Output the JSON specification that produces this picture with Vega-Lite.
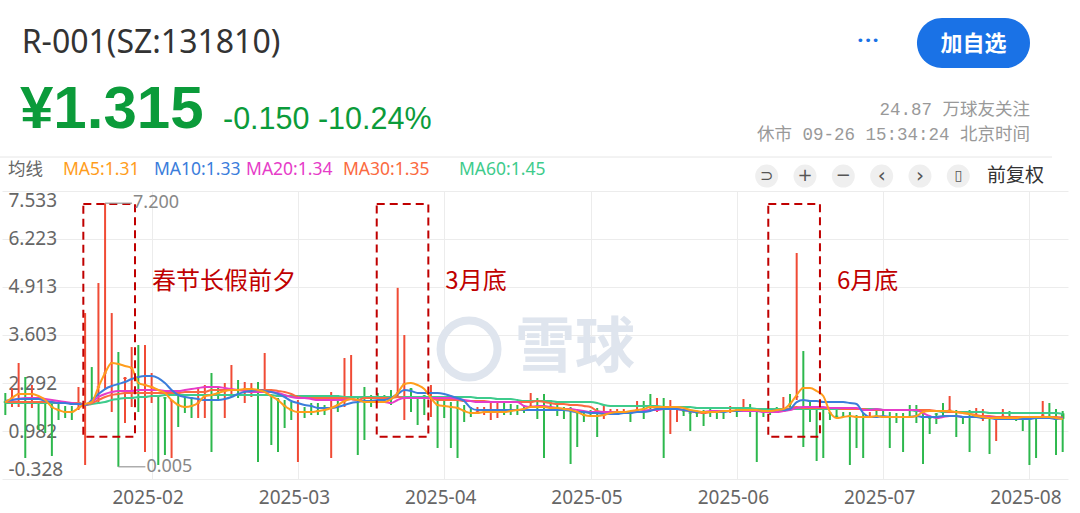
{
  "$schema": "https://vega.github.io/schema/vega-lite/v6.json",
  "description": "R-001 daily candles with moving averages, Xueqiu style",
  "width": 1066,
  "height": 288,
  "autosize": {"type": "none"},
  "padding": {"left": 2, "top": 191, "right": 12, "bottom": 34},
  "background": "white",
  "config": {
    "view": {"stroke": null},
    "axis": {"labelFont": "Noto Sans", "labelFontSize": 19, "labelColor": "#666666", "gridColor": "#ececec", "domain": false, "ticks": false, "title": null}
  },
  "datasets": {
    "k": [
      {"i":0,"o":1.788,"c":1.758,"h":2.019,"l":1.418,"ma5":1.773,"ma10":1.801,"ma20":1.801,"ma30":1.773,"ma60":1.746},
      {"i":1,"o":1.868,"c":1.898,"h":2.155,"l":1.637,"ma5":1.883,"ma10":1.828,"ma20":1.828,"ma30":1.773,"ma60":1.746},
      {"i":2,"o":1.977,"c":2.007,"h":2.838,"l":1.637,"ma5":1.992,"ma10":1.855,"ma20":1.855,"ma30":1.773,"ma60":1.746},
      {"i":3,"o":2.007,"c":1.977,"h":2.456,"l":0.245,"ma5":1.992,"ma10":1.855,"ma20":1.883,"ma30":1.773,"ma60":1.746},
      {"i":4,"o":1.977,"c":2.007,"h":2.237,"l":1.610,"ma5":1.992,"ma10":1.855,"ma20":1.883,"ma30":1.773,"ma60":1.746},
      {"i":5,"o":1.760,"c":1.730,"h":1.773,"l":1.009,"ma5":1.937,"ma10":1.855,"ma20":1.883,"ma30":1.773,"ma60":1.746},
      {"i":6,"o":1.760,"c":1.720,"h":1.773,"l":0.927,"ma5":1.828,"ma10":1.801,"ma20":1.855,"ma30":1.773,"ma60":1.746},
      {"i":7,"o":1.652,"c":1.622,"h":1.773,"l":0.300,"ma5":1.637,"ma10":1.773,"ma20":1.828,"ma30":1.773,"ma60":1.746},
      {"i":8,"o":1.570,"c":1.540,"h":1.746,"l":1.282,"ma5":1.555,"ma10":1.746,"ma20":1.801,"ma30":1.746,"ma60":1.746},
      {"i":9,"o":1.515,"c":1.485,"h":1.664,"l":1.337,"ma5":1.500,"ma10":1.746,"ma20":1.773,"ma30":1.746,"ma60":1.746},
      {"i":10,"o":1.515,"c":1.485,"h":1.664,"l":1.282,"ma5":1.500,"ma10":1.719,"ma20":1.746,"ma30":1.746,"ma60":1.746},
      {"i":11,"o":1.595,"c":1.625,"h":2.183,"l":1.555,"ma5":1.610,"ma10":1.719,"ma20":1.719,"ma30":1.746,"ma60":1.746},
      {"i":12,"o":1.704,"c":1.734,"h":4.202,"l":0.054,"ma5":1.719,"ma10":1.692,"ma20":1.692,"ma30":1.692,"ma60":1.692},
      {"i":13,"o":1.788,"c":1.758,"h":2.728,"l":1.719,"ma5":1.773,"ma10":1.828,"ma20":1.773,"ma30":1.746,"ma60":1.719},
      {"i":14,"o":2.168,"c":2.198,"h":5.021,"l":1.746,"ma5":2.183,"ma10":1.992,"ma20":1.910,"ma30":1.828,"ma60":1.746},
      {"i":15,"o":2.550,"c":2.580,"h":7.200,"l":2.101,"ma5":2.565,"ma10":2.128,"ma20":1.992,"ma30":1.910,"ma60":1.773},
      {"i":16,"o":2.823,"c":2.853,"h":4.202,"l":1.500,"ma5":2.838,"ma10":2.210,"ma20":2.046,"ma30":1.964,"ma60":1.828},
      {"i":17,"o":2.826,"c":2.796,"h":3.138,"l":0.005,"ma5":2.811,"ma10":2.265,"ma20":2.074,"ma30":1.992,"ma60":1.855},
      {"i":18,"o":2.400,"c":2.440,"h":2.456,"l":1.200,"ma5":2.756,"ma10":2.319,"ma20":2.074,"ma30":2.019,"ma60":1.883},
      {"i":19,"o":2.686,"c":2.716,"h":3.274,"l":1.637,"ma5":2.701,"ma10":2.401,"ma20":2.074,"ma30":2.019,"ma60":1.883},
      {"i":20,"o":2.307,"c":2.277,"h":3.329,"l":1.500,"ma5":2.292,"ma10":2.456,"ma20":2.101,"ma30":2.019,"ma60":1.910},
      {"i":21,"o":2.222,"c":2.252,"h":3.329,"l":0.409,"ma5":2.237,"ma10":2.483,"ma20":2.101,"ma30":2.019,"ma60":1.910},
      {"i":22,"o":2.168,"c":2.198,"h":2.565,"l":1.746,"ma5":2.183,"ma10":2.483,"ma20":2.101,"ma30":2.019,"ma60":1.937},
      {"i":23,"o":1.950,"c":1.920,"h":1.964,"l":0.054,"ma5":2.101,"ma10":2.428,"ma20":2.101,"ma30":2.019,"ma60":1.937},
      {"i":24,"o":1.900,"c":1.870,"h":1.910,"l":0.327,"ma5":2.019,"ma10":2.292,"ma20":2.074,"ma30":2.019,"ma60":1.964},
      {"i":25,"o":1.790,"c":1.820,"h":1.828,"l":0.245,"ma5":1.828,"ma10":2.101,"ma20":2.074,"ma30":2.019,"ma60":1.964},
      {"i":26,"o":1.707,"c":1.677,"h":1.964,"l":1.091,"ma5":1.692,"ma10":1.964,"ma20":2.074,"ma30":2.019,"ma60":1.964},
      {"i":27,"o":1.652,"c":1.622,"h":1.910,"l":1.473,"ma5":1.637,"ma10":1.910,"ma20":2.101,"ma30":2.046,"ma60":1.964},
      {"i":28,"o":1.679,"c":1.649,"h":1.910,"l":1.337,"ma5":1.664,"ma10":1.883,"ma20":2.128,"ma30":2.046,"ma60":1.964},
      {"i":29,"o":1.731,"c":1.761,"h":2.155,"l":1.337,"ma5":1.746,"ma10":1.855,"ma20":2.155,"ma30":2.046,"ma60":1.964},
      {"i":30,"o":1.922,"c":1.952,"h":2.237,"l":1.337,"ma5":1.937,"ma10":1.828,"ma20":2.183,"ma30":2.046,"ma60":1.964},
      {"i":31,"o":1.979,"c":1.949,"h":2.565,"l":0.409,"ma5":1.964,"ma10":1.828,"ma20":2.183,"ma30":2.101,"ma60":1.964},
      {"i":32,"o":2.034,"c":2.004,"h":2.183,"l":1.828,"ma5":2.019,"ma10":1.828,"ma20":2.183,"ma30":2.101,"ma60":1.964},
      {"i":33,"o":2.059,"c":2.089,"h":2.292,"l":1.337,"ma5":2.074,"ma10":1.855,"ma20":2.155,"ma30":2.101,"ma60":1.964},
      {"i":34,"o":2.086,"c":2.116,"h":2.783,"l":1.910,"ma5":2.101,"ma10":1.910,"ma20":2.128,"ma30":2.101,"ma60":1.964},
      {"i":35,"o":2.116,"c":2.086,"h":2.374,"l":1.883,"ma5":2.101,"ma10":1.992,"ma20":2.101,"ma30":2.101,"ma60":1.964},
      {"i":36,"o":2.113,"c":2.143,"h":2.319,"l":1.746,"ma5":2.128,"ma10":2.046,"ma20":2.074,"ma30":2.101,"ma60":1.964},
      {"i":37,"o":2.113,"c":2.143,"h":2.292,"l":1.910,"ma5":2.128,"ma10":2.074,"ma20":2.046,"ma30":2.101,"ma60":1.964},
      {"i":38,"o":2.116,"c":2.086,"h":2.319,"l":0.136,"ma5":2.101,"ma10":2.101,"ma20":2.046,"ma30":2.101,"ma60":1.964},
      {"i":39,"o":2.031,"c":2.061,"h":3.111,"l":2.019,"ma5":2.046,"ma10":2.074,"ma20":2.046,"ma30":2.101,"ma60":1.964},
      {"i":40,"o":1.952,"c":1.922,"h":1.964,"l":0.600,"ma5":1.937,"ma10":2.046,"ma20":2.046,"ma30":2.101,"ma60":1.964},
      {"i":41,"o":1.843,"c":1.813,"h":1.883,"l":0.409,"ma5":1.828,"ma10":1.992,"ma20":2.019,"ma30":2.074,"ma60":1.937},
      {"i":42,"o":1.679,"c":1.649,"h":1.828,"l":1.064,"ma5":1.664,"ma10":1.910,"ma20":1.964,"ma30":2.046,"ma60":1.937},
      {"i":43,"o":1.570,"c":1.540,"h":1.773,"l":1.282,"ma5":1.555,"ma10":1.801,"ma20":1.910,"ma30":1.992,"ma60":1.937},
      {"i":44,"o":1.485,"c":1.515,"h":1.828,"l":0.136,"ma5":1.500,"ma10":1.746,"ma20":1.883,"ma30":1.910,"ma60":1.937},
      {"i":45,"o":1.515,"c":1.485,"h":1.637,"l":1.337,"ma5":1.500,"ma10":1.692,"ma20":1.883,"ma30":1.883,"ma60":1.937},
      {"i":46,"o":1.515,"c":1.485,"h":1.746,"l":1.418,"ma5":1.500,"ma10":1.664,"ma20":1.855,"ma30":1.883,"ma60":1.937},
      {"i":47,"o":1.543,"c":1.513,"h":1.746,"l":1.418,"ma5":1.528,"ma10":1.610,"ma20":1.828,"ma30":1.883,"ma60":1.937},
      {"i":48,"o":1.570,"c":1.540,"h":1.692,"l":1.418,"ma5":1.555,"ma10":1.610,"ma20":1.828,"ma30":1.883,"ma60":1.937},
      {"i":49,"o":1.595,"c":1.625,"h":2.046,"l":0.245,"ma5":1.610,"ma10":1.610,"ma20":1.828,"ma30":1.883,"ma60":1.937},
      {"i":50,"o":1.707,"c":1.677,"h":1.964,"l":1.500,"ma5":1.692,"ma10":1.637,"ma20":1.828,"ma30":1.883,"ma60":1.937},
      {"i":51,"o":1.786,"c":1.816,"h":2.974,"l":1.637,"ma5":1.801,"ma10":1.692,"ma20":1.828,"ma30":1.883,"ma60":1.910},
      {"i":52,"o":1.840,"c":1.870,"h":3.056,"l":1.828,"ma5":1.855,"ma10":1.746,"ma20":1.855,"ma30":1.855,"ma60":1.910},
      {"i":53,"o":1.843,"c":1.813,"h":1.883,"l":0.327,"ma5":1.828,"ma10":1.773,"ma20":1.828,"ma30":1.828,"ma60":1.910},
      {"i":54,"o":1.788,"c":1.758,"h":2.183,"l":0.736,"ma5":1.773,"ma10":1.801,"ma20":1.801,"ma30":1.883,"ma60":1.910},
      {"i":55,"o":1.788,"c":1.758,"h":1.964,"l":1.637,"ma5":1.773,"ma10":1.801,"ma20":1.801,"ma30":1.883,"ma60":1.910},
      {"i":56,"o":1.800,"c":1.780,"h":2.019,"l":1.773,"ma5":1.773,"ma10":1.828,"ma20":1.773,"ma30":1.883,"ma60":1.910},
      {"i":57,"o":1.788,"c":1.758,"h":1.964,"l":1.746,"ma5":1.773,"ma10":1.828,"ma20":1.773,"ma30":1.883,"ma60":1.910},
      {"i":58,"o":1.870,"c":1.840,"h":2.101,"l":1.692,"ma5":1.855,"ma10":1.883,"ma20":1.746,"ma30":1.883,"ma60":1.910},
      {"i":59,"o":2.004,"c":2.034,"h":4.890,"l":1.910,"ma5":2.019,"ma10":1.992,"ma20":1.828,"ma30":1.910,"ma60":1.910},
      {"i":60,"o":2.250,"c":2.280,"h":3.602,"l":1.282,"ma5":2.265,"ma10":2.101,"ma20":1.883,"ma30":1.883,"ma60":1.910},
      {"i":61,"o":2.140,"c":2.110,"h":2.155,"l":1.500,"ma5":2.292,"ma10":2.074,"ma20":1.883,"ma30":1.883,"ma60":1.910},
      {"i":62,"o":1.900,"c":1.870,"h":1.910,"l":1.146,"ma5":2.237,"ma10":2.019,"ma20":1.883,"ma30":1.883,"ma60":1.910},
      {"i":63,"o":1.950,"c":1.920,"h":1.964,"l":1.418,"ma5":2.128,"ma10":2.019,"ma20":1.883,"ma30":1.883,"ma60":1.910},
      {"i":64,"o":1.868,"c":1.898,"h":2.237,"l":1.364,"ma5":1.883,"ma10":2.019,"ma20":1.883,"ma30":1.883,"ma60":1.910},
      {"i":65,"o":1.707,"c":1.677,"h":1.883,"l":0.518,"ma5":1.692,"ma10":2.019,"ma20":1.883,"ma30":1.828,"ma60":1.910},
      {"i":66,"o":1.679,"c":1.649,"h":1.828,"l":1.337,"ma5":1.664,"ma10":1.992,"ma20":1.883,"ma30":1.828,"ma60":1.910},
      {"i":67,"o":1.652,"c":1.622,"h":1.773,"l":0.518,"ma5":1.637,"ma10":1.937,"ma20":1.883,"ma30":1.828,"ma60":1.910},
      {"i":68,"o":1.625,"c":1.595,"h":1.828,"l":0.245,"ma5":1.610,"ma10":1.883,"ma20":1.855,"ma30":1.828,"ma60":1.910},
      {"i":69,"o":1.543,"c":1.513,"h":1.692,"l":1.228,"ma5":1.528,"ma10":1.801,"ma20":1.828,"ma30":1.801,"ma60":1.910},
      {"i":70,"o":1.488,"c":1.458,"h":1.637,"l":1.364,"ma5":1.473,"ma10":1.610,"ma20":1.801,"ma30":1.801,"ma60":1.910},
      {"i":71,"o":1.490,"c":1.520,"h":1.637,"l":1.473,"ma5":1.473,"ma10":1.555,"ma20":1.773,"ma30":1.801,"ma60":1.883},
      {"i":72,"o":1.485,"c":1.515,"h":1.637,"l":1.418,"ma5":1.500,"ma10":1.555,"ma20":1.773,"ma30":1.801,"ma60":1.883},
      {"i":73,"o":1.485,"c":1.515,"h":1.773,"l":1.282,"ma5":1.500,"ma10":1.555,"ma20":1.773,"ma30":1.773,"ma60":1.883},
      {"i":74,"o":1.485,"c":1.515,"h":1.773,"l":1.337,"ma5":1.500,"ma10":1.555,"ma20":1.773,"ma30":1.773,"ma60":1.855},
      {"i":75,"o":1.515,"c":1.485,"h":1.746,"l":1.418,"ma5":1.500,"ma10":1.555,"ma20":1.773,"ma30":1.773,"ma60":1.855},
      {"i":76,"o":1.543,"c":1.513,"h":1.719,"l":1.418,"ma5":1.528,"ma10":1.555,"ma20":1.773,"ma30":1.773,"ma60":1.855},
      {"i":77,"o":1.570,"c":1.540,"h":1.692,"l":1.418,"ma5":1.555,"ma10":1.555,"ma20":1.773,"ma30":1.773,"ma60":1.828},
      {"i":78,"o":1.597,"c":1.567,"h":1.692,"l":1.473,"ma5":1.582,"ma10":1.555,"ma20":1.664,"ma30":1.773,"ma60":1.801},
      {"i":79,"o":1.645,"c":1.675,"h":2.019,"l":1.637,"ma5":1.637,"ma10":1.555,"ma20":1.637,"ma30":1.773,"ma60":1.801},
      {"i":80,"o":1.652,"c":1.622,"h":1.883,"l":1.309,"ma5":1.637,"ma10":1.555,"ma20":1.664,"ma30":1.801,"ma60":1.801},
      {"i":81,"o":1.652,"c":1.622,"h":1.992,"l":0.245,"ma5":1.637,"ma10":1.555,"ma20":1.664,"ma30":1.773,"ma60":1.801},
      {"i":82,"o":1.640,"c":1.615,"h":1.828,"l":1.610,"ma5":1.610,"ma10":1.555,"ma20":1.637,"ma30":1.746,"ma60":1.801},
      {"i":83,"o":1.625,"c":1.595,"h":1.773,"l":1.391,"ma5":1.610,"ma10":1.555,"ma20":1.610,"ma30":1.719,"ma60":1.773},
      {"i":84,"o":1.597,"c":1.567,"h":1.637,"l":1.309,"ma5":1.582,"ma10":1.555,"ma20":1.582,"ma30":1.719,"ma60":1.773},
      {"i":85,"o":1.570,"c":1.540,"h":1.637,"l":0.081,"ma5":1.555,"ma10":1.528,"ma20":1.582,"ma30":1.692,"ma60":1.773},
      {"i":86,"o":1.495,"c":1.465,"h":1.500,"l":0.545,"ma5":1.500,"ma10":1.500,"ma20":1.555,"ma30":1.692,"ma60":1.773},
      {"i":87,"o":1.433,"c":1.403,"h":1.500,"l":1.228,"ma5":1.418,"ma10":1.500,"ma20":1.528,"ma30":1.664,"ma60":1.773},
      {"i":88,"o":1.406,"c":1.376,"h":1.555,"l":1.364,"ma5":1.391,"ma10":1.473,"ma20":1.500,"ma30":1.637,"ma60":1.773},
      {"i":89,"o":1.406,"c":1.376,"h":1.610,"l":0.818,"ma5":1.391,"ma10":1.473,"ma20":1.500,"ma30":1.528,"ma60":1.746},
      {"i":90,"o":1.403,"c":1.433,"h":1.692,"l":1.309,"ma5":1.418,"ma10":1.446,"ma20":1.500,"ma30":1.500,"ma60":1.692},
      {"i":91,"o":1.480,"c":1.510,"h":1.582,"l":1.473,"ma5":1.473,"ma10":1.446,"ma20":1.500,"ma30":1.500,"ma60":1.664},
      {"i":92,"o":1.485,"c":1.515,"h":1.582,"l":1.473,"ma5":1.500,"ma10":1.446,"ma20":1.500,"ma30":1.500,"ma60":1.664},
      {"i":93,"o":1.485,"c":1.515,"h":1.582,"l":1.473,"ma5":1.500,"ma10":1.473,"ma20":1.500,"ma30":1.500,"ma60":1.664},
      {"i":94,"o":1.490,"c":1.460,"h":1.500,"l":1.228,"ma5":1.528,"ma10":1.473,"ma20":1.500,"ma30":1.500,"ma60":1.664},
      {"i":95,"o":1.540,"c":1.570,"h":1.801,"l":1.500,"ma5":1.555,"ma10":1.500,"ma20":1.500,"ma30":1.500,"ma60":1.664},
      {"i":96,"o":1.597,"c":1.567,"h":1.801,"l":1.309,"ma5":1.582,"ma10":1.500,"ma20":1.528,"ma30":1.528,"ma60":1.664},
      {"i":97,"o":1.652,"c":1.622,"h":1.992,"l":1.555,"ma5":1.637,"ma10":1.528,"ma20":1.555,"ma30":1.555,"ma60":1.664},
      {"i":98,"o":1.622,"c":1.652,"h":1.883,"l":1.500,"ma5":1.637,"ma10":1.582,"ma20":1.555,"ma30":1.582,"ma60":1.664},
      {"i":99,"o":1.652,"c":1.622,"h":1.883,"l":0.245,"ma5":1.637,"ma10":1.582,"ma20":1.582,"ma30":1.582,"ma60":1.637},
      {"i":100,"o":1.622,"c":1.652,"h":1.828,"l":0.900,"ma5":1.637,"ma10":1.582,"ma20":1.582,"ma30":1.582,"ma60":1.637},
      {"i":101,"o":1.600,"c":1.630,"h":1.637,"l":1.228,"ma5":1.637,"ma10":1.582,"ma20":1.582,"ma30":1.582,"ma60":1.637},
      {"i":102,"o":1.540,"c":1.510,"h":1.555,"l":1.391,"ma5":1.610,"ma10":1.555,"ma20":1.555,"ma30":1.555,"ma60":1.637},
      {"i":103,"o":1.490,"c":1.460,"h":1.500,"l":0.982,"ma5":1.555,"ma10":1.528,"ma20":1.528,"ma30":1.528,"ma60":1.637},
      {"i":104,"o":1.490,"c":1.460,"h":1.500,"l":1.364,"ma5":1.528,"ma10":1.500,"ma20":1.500,"ma30":1.500,"ma60":1.610},
      {"i":105,"o":1.515,"c":1.485,"h":1.555,"l":1.118,"ma5":1.500,"ma10":1.500,"ma20":1.500,"ma30":1.473,"ma60":1.610},
      {"i":106,"o":1.515,"c":1.485,"h":1.582,"l":1.364,"ma5":1.500,"ma10":1.500,"ma20":1.528,"ma30":1.500,"ma60":1.610},
      {"i":107,"o":1.515,"c":1.485,"h":1.528,"l":1.309,"ma5":1.500,"ma10":1.500,"ma20":1.528,"ma30":1.528,"ma60":1.610},
      {"i":108,"o":1.520,"c":1.495,"h":1.528,"l":1.309,"ma5":1.528,"ma10":1.500,"ma20":1.528,"ma30":1.528,"ma60":1.610},
      {"i":109,"o":1.513,"c":1.543,"h":1.664,"l":1.473,"ma5":1.528,"ma10":1.528,"ma20":1.528,"ma30":1.528,"ma60":1.610},
      {"i":110,"o":1.570,"c":1.540,"h":1.610,"l":1.364,"ma5":1.555,"ma10":1.528,"ma20":1.528,"ma30":1.528,"ma60":1.610},
      {"i":111,"o":1.540,"c":1.570,"h":1.855,"l":1.500,"ma5":1.555,"ma10":1.555,"ma20":1.528,"ma30":1.528,"ma60":1.610},
      {"i":112,"o":1.570,"c":1.540,"h":1.719,"l":1.364,"ma5":1.555,"ma10":1.555,"ma20":1.528,"ma30":1.528,"ma60":1.610},
      {"i":113,"o":1.570,"c":1.540,"h":1.610,"l":0.136,"ma5":1.555,"ma10":1.555,"ma20":1.528,"ma30":1.528,"ma60":1.582},
      {"i":114,"o":1.520,"c":1.490,"h":1.528,"l":1.364,"ma5":1.528,"ma10":1.528,"ma20":1.500,"ma30":1.528,"ma60":1.582},
      {"i":115,"o":1.543,"c":1.513,"h":1.582,"l":1.418,"ma5":1.528,"ma10":1.528,"ma20":1.500,"ma30":1.528,"ma60":1.582},
      {"i":116,"o":1.570,"c":1.540,"h":1.637,"l":1.473,"ma5":1.555,"ma10":1.555,"ma20":1.500,"ma30":1.528,"ma60":1.582},
      {"i":117,"o":1.567,"c":1.597,"h":1.910,"l":1.555,"ma5":1.582,"ma10":1.555,"ma20":1.528,"ma30":1.528,"ma60":1.582},
      {"i":118,"o":1.734,"c":1.704,"h":1.992,"l":1.555,"ma5":1.719,"ma10":1.582,"ma20":1.555,"ma30":1.610,"ma60":1.582},
      {"i":119,"o":1.900,"c":1.940,"h":5.841,"l":1.828,"ma5":1.964,"ma10":1.773,"ma20":1.610,"ma30":1.637,"ma60":1.582},
      {"i":120,"o":2.170,"c":2.140,"h":3.165,"l":0.545,"ma5":2.155,"ma10":1.828,"ma20":1.637,"ma30":1.610,"ma60":1.582},
      {"i":121,"o":1.810,"c":1.780,"h":1.828,"l":1.228,"ma5":2.155,"ma10":1.801,"ma20":1.637,"ma30":1.610,"ma60":1.582},
      {"i":122,"o":1.620,"c":1.590,"h":1.637,"l":0.163,"ma5":2.074,"ma10":1.801,"ma20":1.637,"ma30":1.610,"ma60":1.582},
      {"i":123,"o":1.620,"c":1.590,"h":1.637,"l":0.245,"ma5":1.937,"ma10":1.773,"ma20":1.637,"ma30":1.610,"ma60":1.582},
      {"i":124,"o":1.490,"c":1.460,"h":1.500,"l":1.282,"ma5":1.500,"ma10":1.773,"ma20":1.610,"ma30":1.610,"ma60":1.582},
      {"i":125,"o":1.400,"c":1.370,"h":1.555,"l":1.364,"ma5":1.337,"ma10":1.773,"ma20":1.610,"ma30":1.610,"ma60":1.582},
      {"i":126,"o":1.395,"c":1.370,"h":1.500,"l":1.364,"ma5":1.364,"ma10":1.773,"ma20":1.610,"ma30":1.582,"ma60":1.582},
      {"i":127,"o":1.406,"c":1.376,"h":1.500,"l":0.054,"ma5":1.391,"ma10":1.746,"ma20":1.610,"ma30":1.582,"ma60":1.582},
      {"i":128,"o":1.379,"c":1.349,"h":1.418,"l":0.518,"ma5":1.364,"ma10":1.719,"ma20":1.610,"ma30":1.582,"ma60":1.582},
      {"i":129,"o":1.379,"c":1.349,"h":1.473,"l":0.245,"ma5":1.364,"ma10":1.473,"ma20":1.555,"ma30":1.582,"ma60":1.582},
      {"i":130,"o":1.370,"c":1.395,"h":1.500,"l":1.364,"ma5":1.364,"ma10":1.364,"ma20":1.555,"ma30":1.555,"ma60":1.582},
      {"i":131,"o":1.406,"c":1.376,"h":1.555,"l":1.364,"ma5":1.391,"ma10":1.364,"ma20":1.582,"ma30":1.555,"ma60":1.582},
      {"i":132,"o":1.379,"c":1.349,"h":1.555,"l":1.337,"ma5":1.364,"ma10":1.391,"ma20":1.555,"ma30":1.555,"ma60":1.555},
      {"i":133,"o":1.379,"c":1.349,"h":1.500,"l":0.518,"ma5":1.364,"ma10":1.364,"ma20":1.555,"ma30":1.555,"ma60":1.555},
      {"i":134,"o":1.379,"c":1.349,"h":1.473,"l":1.200,"ma5":1.364,"ma10":1.364,"ma20":1.555,"ma30":1.555,"ma60":1.555},
      {"i":135,"o":1.379,"c":1.349,"h":1.473,"l":0.409,"ma5":1.364,"ma10":1.364,"ma20":1.555,"ma30":1.555,"ma60":1.555},
      {"i":136,"o":1.395,"c":1.370,"h":1.692,"l":1.364,"ma5":1.364,"ma10":1.364,"ma20":1.555,"ma30":1.555,"ma60":1.555},
      {"i":137,"o":1.406,"c":1.376,"h":1.692,"l":1.200,"ma5":1.391,"ma10":1.391,"ma20":1.555,"ma30":1.555,"ma60":1.528},
      {"i":138,"o":1.490,"c":1.460,"h":1.500,"l":0.081,"ma5":1.500,"ma10":1.364,"ma20":1.473,"ma30":1.555,"ma60":1.528},
      {"i":139,"o":1.350,"c":1.320,"h":1.364,"l":0.900,"ma5":1.528,"ma10":1.364,"ma20":1.391,"ma30":1.555,"ma60":1.528},
      {"i":140,"o":1.460,"c":1.430,"h":1.473,"l":1.173,"ma5":1.528,"ma10":1.364,"ma20":1.337,"ma30":1.528,"ma60":1.528},
      {"i":141,"o":1.543,"c":1.513,"h":1.746,"l":1.391,"ma5":1.528,"ma10":1.391,"ma20":1.364,"ma30":1.528,"ma60":1.500},
      {"i":142,"o":1.535,"c":1.565,"h":1.937,"l":1.528,"ma5":1.528,"ma10":1.391,"ma20":1.391,"ma30":1.500,"ma60":1.500},
      {"i":143,"o":1.515,"c":1.485,"h":1.555,"l":0.818,"ma5":1.500,"ma10":1.391,"ma20":1.391,"ma30":1.500,"ma60":1.500},
      {"i":144,"o":1.380,"c":1.350,"h":1.391,"l":1.173,"ma5":1.473,"ma10":1.364,"ma20":1.364,"ma30":1.473,"ma60":1.500},
      {"i":145,"o":1.461,"c":1.431,"h":1.555,"l":0.409,"ma5":1.446,"ma10":1.364,"ma20":1.364,"ma30":1.446,"ma60":1.500},
      {"i":146,"o":1.380,"c":1.410,"h":1.610,"l":1.364,"ma5":1.391,"ma10":1.364,"ma20":1.364,"ma30":1.418,"ma60":1.500},
      {"i":147,"o":1.349,"c":1.379,"h":1.582,"l":1.255,"ma5":1.364,"ma10":1.337,"ma20":1.364,"ma30":1.391,"ma60":1.500},
      {"i":148,"o":1.355,"c":1.325,"h":1.364,"l":0.354,"ma5":1.337,"ma10":1.337,"ma20":1.364,"ma30":1.391,"ma60":1.473},
      {"i":149,"o":1.322,"c":1.352,"h":1.364,"l":0.709,"ma5":1.337,"ma10":1.309,"ma20":1.337,"ma30":1.364,"ma60":1.473},
      {"i":150,"o":1.370,"c":1.400,"h":1.582,"l":1.364,"ma5":1.337,"ma10":1.309,"ma20":1.337,"ma30":1.364,"ma60":1.473},
      {"i":151,"o":1.365,"c":1.340,"h":1.528,"l":1.337,"ma5":1.337,"ma10":1.309,"ma20":1.337,"ma30":1.364,"ma60":1.473},
      {"i":152,"o":1.352,"c":1.322,"h":1.391,"l":1.255,"ma5":1.337,"ma10":1.309,"ma20":1.337,"ma30":1.364,"ma60":1.473},
      {"i":153,"o":1.379,"c":1.349,"h":1.391,"l":0.982,"ma5":1.364,"ma10":1.309,"ma20":1.337,"ma30":1.364,"ma60":1.473},
      {"i":154,"o":1.362,"c":1.335,"h":1.364,"l":0.054,"ma5":1.364,"ma10":1.309,"ma20":1.337,"ma30":1.364,"ma60":1.473},
      {"i":155,"o":1.379,"c":1.349,"h":1.391,"l":0.245,"ma5":1.364,"ma10":1.337,"ma20":1.337,"ma30":1.364,"ma60":1.473},
      {"i":156,"o":1.400,"c":1.430,"h":1.801,"l":1.391,"ma5":1.364,"ma10":1.337,"ma20":1.337,"ma30":1.364,"ma60":1.473},
      {"i":157,"o":1.395,"c":1.370,"h":1.746,"l":1.364,"ma5":1.364,"ma10":1.337,"ma20":1.337,"ma30":1.364,"ma60":1.473},
      {"i":158,"o":1.352,"c":1.322,"h":1.582,"l":0.327,"ma5":1.337,"ma10":1.309,"ma20":1.337,"ma30":1.364,"ma60":1.473},
      {"i":159,"o":1.465,"c":1.315,"h":1.528,"l":0.409,"ma5":1.310,"ma10":1.330,"ma20":1.340,"ma30":1.350,"ma60":1.450}
    ],
    "box": [
      {"k0": 11.73, "k1": 19.5, "lo": 0.826, "hi": 7.177, "label": "春节长假前夕"},
      {"k0": 55.85, "k1": 63.61, "lo": 0.826, "hi": 7.177, "label": "3月底"},
      {"k0": 114.73, "k1": 122.5, "lo": 0.826, "hi": 7.177, "label": "6月底"}
    ],
    "ext": [
      {"i": 15, "v": 7.2, "t": "7.200"},
      {"i": 17, "v": 0.005, "t": "0.005"}
    ]
  },
  "data": {"values": [{}]},
  "layer": [
    {
      "data": {"name": "k"},
      "mark": {"type": "rule", "strokeWidth": 2},
      "encoding": {
        "x": {
          "field": "i", "type": "quantitative",
          "scale": {"domain": [-0.5, 159.8], "nice": false, "zero": false},
          "axis": {
            "values": [22, 44, 66, 88, 110, 132, 154],
            "labelExpr": "['2025-02','2025-03','2025-04','2025-05','2025-06','2025-07','2025-08'][round(datum.value / 22) - 1]",
            "labelPadding": 9, "labelOffset": -4, "labelFlush": false,
            "grid": true
          }
        },
        "y": {
          "field": "l", "type": "quantitative",
          "scale": {"domain": [-0.328, 7.533], "nice": false, "zero": false},
          "axis": {
            "values": [-0.328, 0.982, 2.292, 3.603, 4.913, 6.223, 7.533],
            "labelExpr": "replace(format(datum.value, '.3f'), '\u2212', '-')",
            "labelAlign": "left", "labelPadding": -6, "labelFlush": true,
            "grid": true
          }
        },
        "y2": {"field": "h"},
        "color": {"condition": {"test": "datum.c >= datum.o", "value": "#f04b35"}, "value": "#2db84d"}
      }
    },
    {
      "data": {"name": "k"},
      "mark": {"type": "rule", "strokeWidth": 3.5},
      "encoding": {
        "x": {"field": "i", "type": "quantitative"},
        "y": {"field": "o", "type": "quantitative"},
        "y2": {"field": "c"},
        "color": {"condition": {"test": "datum.c >= datum.o", "value": "#f04b35"}, "value": "#2db84d"}
      }
    },
    {
      "mark": {"type": "point", "shape": "circle", "filled": false, "size": 3250, "strokeWidth": 8, "color": "#dfe5ee", "opacity": 1},
      "encoding": {
        "x": {"datum": 69.73, "type": "quantitative"},
        "y": {"datum": 3.22, "type": "quantitative"}
      }
    },
    {
      "mark": {"type": "text", "text": "雪球", "align": "left", "baseline": "middle", "fontSize": 60, "fontWeight": "bold", "font": "Noto Sans CJK SC", "color": "#dfe5ee"},
      "encoding": {
        "x": {"datum": 76.64, "type": "quantitative"},
        "y": {"datum": 3.22, "type": "quantitative"}
      }
    },
    {
      "data": {"name": "k"},
      "mark": {"type": "line", "strokeWidth": 2, "interpolate": "monotone", "color": "#3ecb8c"},
      "encoding": {
        "x": {"field": "i", "type": "quantitative"},
        "y": {"field": "ma60", "type": "quantitative"}
      }
    },
    {
      "data": {"name": "k"},
      "mark": {"type": "line", "strokeWidth": 2, "interpolate": "monotone", "color": "#fb6a40"},
      "encoding": {
        "x": {"field": "i", "type": "quantitative"},
        "y": {"field": "ma30", "type": "quantitative"}
      }
    },
    {
      "data": {"name": "k"},
      "mark": {"type": "line", "strokeWidth": 2, "interpolate": "monotone", "color": "#e63cc8"},
      "encoding": {
        "x": {"field": "i", "type": "quantitative"},
        "y": {"field": "ma20", "type": "quantitative"}
      }
    },
    {
      "data": {"name": "k"},
      "mark": {"type": "line", "strokeWidth": 2, "interpolate": "monotone", "color": "#3b7ddb"},
      "encoding": {
        "x": {"field": "i", "type": "quantitative"},
        "y": {"field": "ma10", "type": "quantitative"}
      }
    },
    {
      "data": {"name": "k"},
      "mark": {"type": "line", "strokeWidth": 2, "interpolate": "monotone", "color": "#ff9d1c"},
      "encoding": {
        "x": {"field": "i", "type": "quantitative"},
        "y": {"field": "ma5", "type": "quantitative"}
      }
    },
    {
      "data": {"name": "box"},
      "mark": {"type": "rect", "filled": false, "color": "#c00000", "strokeWidth": 2, "strokeDash": [8, 5]},
      "encoding": {
        "x": {"field": "k0", "type": "quantitative"},
        "x2": {"field": "k1"},
        "y": {"field": "lo", "type": "quantitative"},
        "y2": {"field": "hi"}
      }
    },
    {
      "data": {"name": "box"},
      "mark": {"type": "text", "align": "left", "baseline": "middle", "dx": 17, "fontSize": 24, "font": "Noto Sans CJK SC", "color": "#c00000"},
      "encoding": {
        "x": {"field": "k1", "type": "quantitative"},
        "y": {"datum": 5.04, "type": "quantitative"},
        "text": {"field": "label"}
      }
    },
    {
      "data": {"name": "ext"},
      "mark": {"type": "rule", "color": "#999999", "strokeWidth": 1.2, "x2Offset": 27},
      "encoding": {
        "x": {"field": "i", "type": "quantitative"},
        "x2": {"field": "i"},
        "y": {"field": "v", "type": "quantitative"}
      }
    },
    {
      "data": {"name": "ext"},
      "mark": {"type": "text", "align": "left", "baseline": "middle", "dx": 28, "fontSize": 18, "font": "Noto Sans", "color": "#888888"},
      "encoding": {
        "x": {"field": "i", "type": "quantitative"},
        "y": {"field": "v", "type": "quantitative"},
        "text": {"field": "t"}
      }
    },
    {
      "mark": {"type": "text", "text": "R-001(SZ:131810)", "align": "left", "baseline": "alphabetic", "fontSize": 32, "font": "Noto Sans", "color": "#333333"},
      "encoding": {
        "x": {"datum": 2.462, "type": "quantitative"},
        "y": {"datum": 11.291, "type": "quantitative"}
      }
    },
    {
      "mark": {"type": "text", "text": "¥1.315", "align": "left", "baseline": "alphabetic", "fontSize": 60, "fontWeight": "bold", "font": "Liberation Sans", "color": "#0b9b3a"},
      "encoding": {
        "x": {"datum": 2.207, "type": "quantitative"},
        "y": {"datum": 9.252, "type": "quantitative"}
      }
    },
    {
      "mark": {"type": "text", "text": "-0.150 -10.24%", "align": "left", "baseline": "alphabetic", "fontSize": 30.5, "font": "Liberation Sans", "color": "#0b9b3a"},
      "encoding": {
        "x": {"datum": 32.733, "type": "quantitative"},
        "y": {"datum": 9.217, "type": "quantitative"}
      }
    },
    {
      "mark": {"type": "text", "text": "•••", "align": "center", "baseline": "middle", "fontSize": 13, "font": "DejaVu Sans", "color": "#1a72e6"},
      "encoding": {
        "x": {"datum": 129.72, "type": "quantitative"},
        "y": {"datum": 11.627, "type": "quantitative"}
      }
    },
    {
      "mark": {"type": "rect", "cornerRadius": 25, "color": "#1a72e6"},
      "encoding": {
        "x": {"datum": 137.09, "type": "quantitative"},
        "x2": {"datum": 154.09},
        "y": {"datum": 12.255, "type": "quantitative"},
        "y2": {"datum": 10.89}
      }
    },
    {
      "mark": {"type": "text", "text": "加自选", "align": "center", "baseline": "middle", "fontSize": 22, "fontWeight": "bold", "font": "Noto Sans CJK SC", "color": "#ffffff"},
      "encoding": {
        "x": {"datum": 145.59, "type": "quantitative"},
        "y": {"datum": 11.559, "type": "quantitative"}
      }
    },
    {
      "mark": {"type": "text", "text": "24.87 万球友关注", "align": "right", "baseline": "alphabetic", "fontSize": 17.5, "font": "Liberation Mono, Noto Sans CJK SC", "color": "#999999"},
      "encoding": {
        "x": {"datum": 154.09, "type": "quantitative"},
        "y": {"datum": 9.607, "type": "quantitative"}
      }
    },
    {
      "mark": {"type": "text", "text": "休市 09-26 15:34:24 北京时间", "align": "right", "baseline": "alphabetic", "fontSize": 17.5, "font": "Liberation Mono, Noto Sans CJK SC", "color": "#999999"},
      "encoding": {
        "x": {"datum": 154.09, "type": "quantitative"},
        "y": {"datum": 8.925, "type": "quantitative"}
      }
    },
    {
      "mark": {"type": "rule", "color": "#e6e6e6", "strokeWidth": 1},
      "encoding": {
        "x": {"datum": -0.8, "type": "quantitative"},
        "x2": {"datum": 157.4},
        "y": {"datum": 8.461, "type": "quantitative"}
      }
    },
    {
      "mark": {"type": "text", "text": "均线", "align": "left", "baseline": "middle", "fontSize": 17.5, "font": "Noto Sans CJK SC", "color": "#666666"},
      "encoding": {
        "x": {"datum": 0.402, "type": "quantitative"},
        "y": {"datum": 8.106, "type": "quantitative"}
      }
    },
    {
      "mark": {"type": "text", "text": "MA5:1.31", "align": "left", "baseline": "middle", "fontSize": 17.5, "font": "Noto Sans", "color": "#ff9d1c"},
      "encoding": {
        "x": {"datum": 8.673, "type": "quantitative"},
        "y": {"datum": 8.106, "type": "quantitative"}
      }
    },
    {
      "mark": {"type": "text", "text": "MA10:1.33", "align": "left", "baseline": "middle", "fontSize": 17.5, "font": "Noto Sans", "color": "#3b7ddb"},
      "encoding": {
        "x": {"datum": 22.357, "type": "quantitative"},
        "y": {"datum": 8.106, "type": "quantitative"}
      }
    },
    {
      "mark": {"type": "text", "text": "MA20:1.34", "align": "left", "baseline": "middle", "fontSize": 17.5, "font": "Noto Sans", "color": "#e63cc8"},
      "encoding": {
        "x": {"datum": 36.192, "type": "quantitative"},
        "y": {"datum": 8.106, "type": "quantitative"}
      }
    },
    {
      "mark": {"type": "text", "text": "MA30:1.35", "align": "left", "baseline": "middle", "fontSize": 17.5, "font": "Noto Sans", "color": "#fb6a40"},
      "encoding": {
        "x": {"datum": 50.778, "type": "quantitative"},
        "y": {"datum": 8.106, "type": "quantitative"}
      }
    },
    {
      "mark": {"type": "text", "text": "MA60:1.45", "align": "left", "baseline": "middle", "fontSize": 17.5, "font": "Noto Sans", "color": "#3ecb8c"},
      "encoding": {
        "x": {"datum": 68.22, "type": "quantitative"},
        "y": {"datum": 8.106, "type": "quantitative"}
      }
    },
    {
      "encoding": {
        "x": {"datum": 114.49, "type": "quantitative"},
        "y": {"datum": 7.942, "type": "quantitative"}
      },
      "layer": [
        {"mark": {"type": "point", "shape": "circle", "filled": true, "size": 529, "color": "#efefef", "opacity": 1}},
        {"mark": {"type": "text", "text": "⊃", "fontSize": 16, "font": "DejaVu Sans", "color": "#555555", "baseline": "middle"}}
      ]
    },
    {
      "encoding": {
        "x": {"datum": 120.25, "type": "quantitative"},
        "y": {"datum": 7.942, "type": "quantitative"}
      },
      "layer": [
        {"mark": {"type": "point", "shape": "circle", "filled": true, "size": 529, "color": "#efefef", "opacity": 1}},
        {"mark": {"type": "text", "text": "+", "fontSize": 18, "font": "DejaVu Sans", "color": "#555555", "baseline": "middle"}}
      ]
    },
    {
      "encoding": {
        "x": {"datum": 126.01, "type": "quantitative"},
        "y": {"datum": 7.942, "type": "quantitative"}
      },
      "layer": [
        {"mark": {"type": "point", "shape": "circle", "filled": true, "size": 529, "color": "#efefef", "opacity": 1}},
        {"mark": {"type": "text", "text": "−", "fontSize": 18, "font": "DejaVu Sans", "color": "#555555", "baseline": "middle"}}
      ]
    },
    {
      "encoding": {
        "x": {"datum": 131.78, "type": "quantitative"},
        "y": {"datum": 7.942, "type": "quantitative"}
      },
      "layer": [
        {"mark": {"type": "point", "shape": "circle", "filled": true, "size": 529, "color": "#efefef", "opacity": 1}},
        {"mark": {"type": "text", "text": "‹", "fontSize": 20, "font": "DejaVu Sans", "color": "#555555", "baseline": "middle"}}
      ]
    },
    {
      "encoding": {
        "x": {"datum": 137.54, "type": "quantitative"},
        "y": {"datum": 7.942, "type": "quantitative"}
      },
      "layer": [
        {"mark": {"type": "point", "shape": "circle", "filled": true, "size": 529, "color": "#efefef", "opacity": 1}},
        {"mark": {"type": "text", "text": "›", "fontSize": 20, "font": "DejaVu Sans", "color": "#555555", "baseline": "middle"}}
      ]
    },
    {
      "encoding": {
        "x": {"datum": 143.3, "type": "quantitative"},
        "y": {"datum": 7.942, "type": "quantitative"}
      },
      "layer": [
        {"mark": {"type": "point", "shape": "circle", "filled": true, "size": 529, "color": "#efefef", "opacity": 1}},
        {"mark": {"type": "text", "text": "▯", "fontSize": 14, "font": "DejaVu Sans", "color": "#555555", "baseline": "middle"}}
      ]
    },
    {
      "mark": {"type": "text", "text": "前复权", "align": "left", "baseline": "middle", "fontSize": 19, "font": "Noto Sans CJK SC", "color": "#333333"},
      "encoding": {
        "x": {"datum": 147.62, "type": "quantitative"},
        "y": {"datum": 7.942, "type": "quantitative"}
      }
    }
  ]
}
